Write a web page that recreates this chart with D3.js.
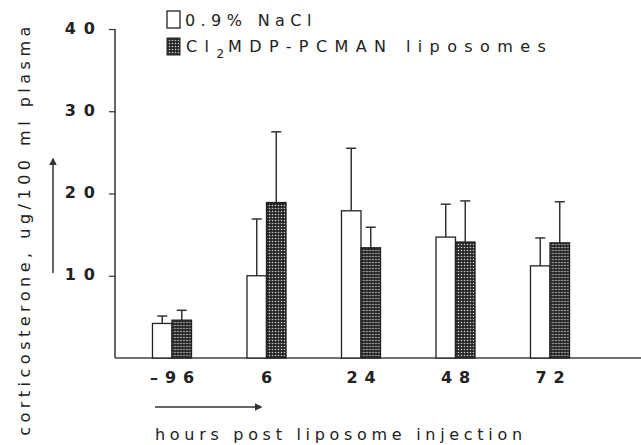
<!DOCTYPE html>
<html>
<head>
<meta charset="utf-8">
<script src="https://cdn.jsdelivr.net/npm/d3@7"></script>
<style>
  body { margin: 0; background: #fff; }
  svg text { font-family: "DejaVu Sans", sans-serif; fill: #222; }
</style>
</head>
<body>
<svg id="chart" width="641" height="445"></svg>
<script>
const hours = ['-96', '6', '24', '48', '72'];
const series = ['0.9% NaCl', 'Cl2MDP-PCMAN liposomes'];
const naclMean = [4.2, 10.0, 17.9, 14.7, 11.2];
const naclErr = [0.9, 6.9, 7.6, 4.0, 3.4];
const lipoMean = [4.6, 18.9, 13.4, 14.1, 14.0];
const lipoErr = [1.2, 8.6, 2.5, 5.0, 5.0];
const yTicks = [10, 20, 30, 40];

const svg = d3.select('#chart');
const axisX = 115, baseY = 358;
const font = '"DejaVu Sans", sans-serif';

// dotted fill for liposome bars
const defs = svg.append('defs');
const pat = defs.append('pattern')
  .attr('id', 'dots')
  .attr('width', 3).attr('height', 3)
  .attr('patternUnits', 'userSpaceOnUse');
pat.append('rect').attr('width', 3).attr('height', 3).attr('fill', '#262626');
pat.append('circle').attr('cx', 1.5).attr('cy', 1.5).attr('r', 0.8).attr('fill', '#d0d0d0');

const x = d3.scaleBand()
  .domain(hours)
  .range([124.75, 597.25])
  .paddingInner(0.587)
  .paddingOuter(0.2935);

const sub = d3.scaleBand()
  .domain([0, 1])
  .range([0, x.bandwidth()]);

const y = d3.scaleLinear()
  .domain([0, 40])
  .range([baseY, 29]);

// y axis
const yAxis = svg.append('g')
  .attr('transform', 'translate(' + axisX + ',0)')
  .call(d3.axisLeft(y).tickValues(yTicks).tickSize(6).tickPadding(8));
yAxis.select('.domain').remove();
yAxis.selectAll('line').attr('stroke', '#333').attr('stroke-width', 1.2);
yAxis.selectAll('text')
  .attr('font-size', 16).attr('font-weight', 'bold').attr('fill', '#333')
  .attr('font-family', font)
  .attr('letter-spacing', 8)
  .attr('dx', 2)
  .attr('dy', '0.25em');

svg.append('line')
  .attr('x1', axisX).attr('x2', axisX)
  .attr('y1', y(40)).attr('y2', baseY)
  .attr('stroke', '#333').attr('stroke-width', 1.5);

// x axis
const xAxis = svg.append('g')
  .attr('transform', 'translate(0,' + baseY + ')')
  .call(d3.axisBottom(x).tickSize(0).tickPadding(14)
    .tickFormat(d => d.replace('-', '\u2013')));
xAxis.select('.domain').remove();
xAxis.selectAll('text')
  .attr('font-size', 16).attr('font-weight', 'bold').attr('fill', '#333')
  .attr('font-family', font)
  .attr('letter-spacing', 7)
  .attr('dx', 3.5);

svg.append('line')
  .attr('x1', axisX).attr('x2', 641)
  .attr('y1', baseY).attr('y2', baseY)
  .attr('stroke', '#444').attr('stroke-width', 1.5);

// bars
const rows = hours.map((h, i) => ({ h, vals: [
  { s: 0, m: naclMean[i], e: naclErr[i] },
  { s: 1, m: lipoMean[i], e: lipoErr[i] }
]}));

const groups = svg.append('g').selectAll('g')
  .data(rows).enter().append('g')
  .attr('transform', d => 'translate(' + x(d.h) + ',0)');

const bar = groups.selectAll('g.bar')
  .data(d => d.vals).enter().append('g').attr('class', 'bar');

// error bars, upper half only
bar.append('line')
  .attr('x1', d => sub(d.s) + sub.bandwidth() / 2)
  .attr('x2', d => sub(d.s) + sub.bandwidth() / 2)
  .attr('y1', d => y(d.m))
  .attr('y2', d => y(d.m + d.e))
  .attr('stroke', '#333').attr('stroke-width', 1.5);
bar.append('line')
  .attr('x1', d => sub(d.s) + sub.bandwidth() / 2 - 5)
  .attr('x2', d => sub(d.s) + sub.bandwidth() / 2 + 5)
  .attr('y1', d => y(d.m + d.e))
  .attr('y2', d => y(d.m + d.e))
  .attr('stroke', '#333').attr('stroke-width', 1.5);

bar.append('rect')
  .attr('x', d => sub(d.s))
  .attr('y', d => y(d.m))
  .attr('width', sub.bandwidth())
  .attr('height', d => baseY - y(d.m))
  .attr('fill', d => d.s ? 'url(#dots)' : '#fff')
  .attr('stroke', '#222').attr('stroke-width', 1.3);

// legend
const leg = svg.append('g');
leg.append('rect').attr('x', 167).attr('y', 11).attr('width', 13).attr('height', 17)
  .attr('fill', '#fff').attr('stroke', '#222').attr('stroke-width', 1.3);
leg.append('rect').attr('x', 167).attr('y', 38).attr('width', 13).attr('height', 17)
  .attr('fill', 'url(#dots)').attr('stroke', '#222').attr('stroke-width', 1);
leg.append('text').attr('x', 185).attr('y', 26)
  .attr('font-size', 16).attr('letter-spacing', 5.4)
  .text(series[0]);
const t2 = leg.append('text').attr('x', 186).attr('y', 52)
  .attr('font-size', 16).attr('letter-spacing', 7.4);
t2.append('tspan').text('Cl');
t2.append('tspan').attr('dy', 6).attr('font-size', 12).attr('letter-spacing', 4).text('2');
t2.append('tspan').attr('dy', -6).text('MDP-PCMAN liposomes');

// axis titles
svg.append('text')
  .attr('transform', 'translate(30,229) rotate(-90)')
  .attr('text-anchor', 'middle')
  .attr('font-size', 16).attr('letter-spacing', 4.5)
  .text('corticosterone, ug/100 ml plasma');

svg.append('text')
  .attr('x', 155).attr('y', 440)
  .attr('font-size', 16).attr('letter-spacing', 4.7)
  .text('hours post liposome injection');

// arrows
defs.append('marker')
  .attr('id', 'head')
  .attr('viewBox', '0 0 10 10')
  .attr('refX', 8).attr('refY', 5)
  .attr('markerWidth', 5).attr('markerHeight', 5)
  .attr('orient', 'auto')
  .append('path').attr('d', 'M0,0L10,5L0,10Z').attr('fill', '#333');

svg.append('line')
  .attr('x1', 53).attr('x2', 53).attr('y1', 273).attr('y2', 159)
  .attr('stroke', '#333').attr('stroke-width', 1.5)
  .attr('marker-end', 'url(#head)');
svg.append('line')
  .attr('x1', 155).attr('x2', 261).attr('y1', 407).attr('y2', 407)
  .attr('stroke', '#333').attr('stroke-width', 1.5)
  .attr('marker-end', 'url(#head)');
</script>
</body>
</html>
